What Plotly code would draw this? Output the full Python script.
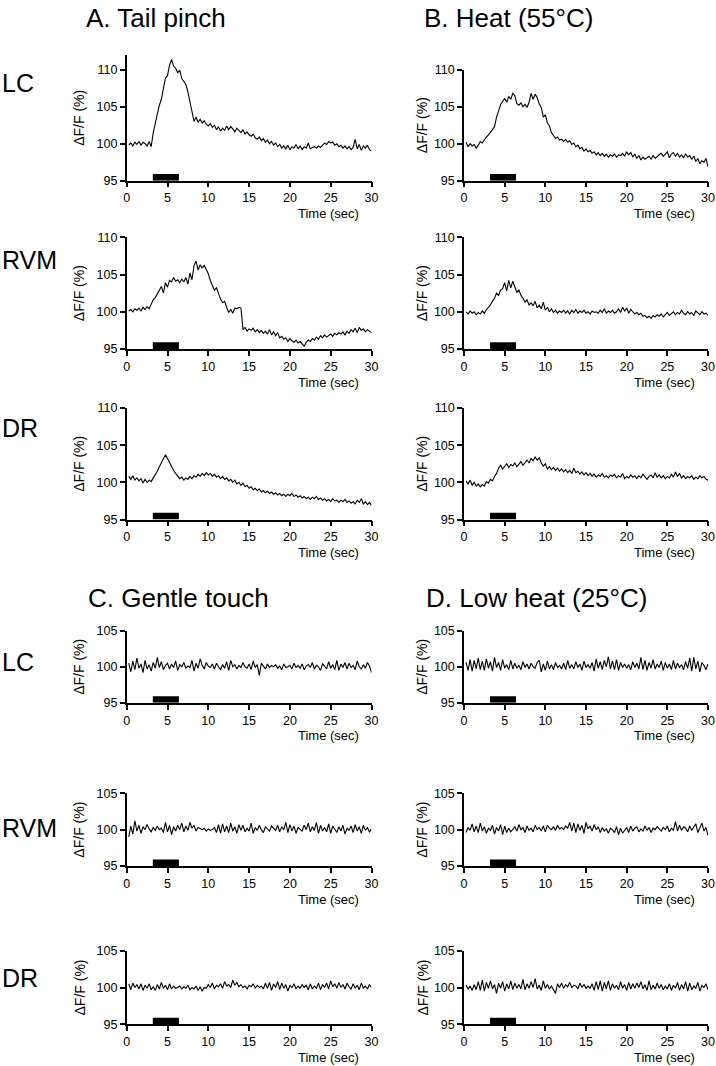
import plotly.graph_objects as go

W, H = 716, 1066
FONT = "Arial, Liberation Sans, sans-serif"


def fx(px):
    return px / W


def fy(py):
    return 1 - py / H


# sample times (s)
TIME = [round(0.25 * (i + 1), 2) for i in range(120)]

A_LC = [99.8, 100.1, 99.7, 100.2, 99.9, 100.3, 99.8, 100.2, 100.0, 99.7, 100.3, 99.6,
        101.5, 102.8, 103.8, 105.2, 106.0, 107.4, 108.9, 109.2, 110.6, 111.4, 110.5, 110.2,
        109.6, 109.9, 108.8, 108.4, 108.0, 107.0, 105.6, 104.4, 103.0, 103.6, 102.9, 103.3,
        102.8, 103.1, 102.6, 102.4, 102.7, 102.2, 102.5, 101.9, 102.3, 101.7, 102.1, 101.8,
        102.4, 101.9, 102.3, 102.0, 101.6, 102.1, 101.8, 101.5, 101.9, 101.3, 101.6, 101.2,
        101.0, 101.3, 100.8, 100.6, 100.9, 100.4, 100.7, 100.2, 100.5, 100.0, 100.3, 99.8,
        100.1, 99.6, 99.9, 99.4, 99.7, 99.3, 99.8, 99.2, 99.6, 99.4, 99.9, 99.3,
        99.7, 99.2, 99.6, 99.4, 100.1, 99.3, 99.5, 99.6, 99.4, 99.7, 99.5, 99.8,
        100.1, 99.9, 100.3, 100.1, 100.2, 99.8, 100.0, 99.6, 99.8, 99.4, 99.7, 99.3,
        99.6, 99.2, 99.5, 100.6, 99.3, 99.9, 99.1, 99.7, 99.4, 99.8, 99.2, 99.0]

B_LC = [100.2, 99.6, 100.0, 99.7, 99.9, 99.4, 99.8, 100.3, 100.1, 100.6, 100.9, 101.2,
        101.5, 101.9, 102.3, 103.6, 104.4, 105.3, 105.7, 106.1, 105.6, 106.4, 106.0, 106.8,
        106.5, 105.4, 105.2, 105.5, 105.0, 105.3, 104.9, 105.6, 106.8, 106.0, 106.7, 106.2,
        105.4, 104.9, 103.6, 103.9, 102.8, 102.4, 101.5, 101.0, 100.7, 100.9, 100.5, 100.6,
        100.3, 100.6, 100.2, 100.4, 99.9, 100.1, 99.6, 99.8, 99.3, 99.5, 99.0, 99.3,
        98.9, 99.1, 98.7, 98.9, 98.5, 98.8, 98.4, 98.7, 98.3, 98.6, 98.2, 98.5,
        98.3, 98.6, 98.2, 98.5, 98.4, 98.7, 98.3, 98.9, 98.5, 98.8, 98.2, 98.6,
        98.0, 98.4, 97.8, 98.2, 97.9, 98.1, 98.3, 97.9, 98.4, 98.0, 98.3, 98.5,
        98.7, 98.3, 98.6, 98.9, 98.1, 98.6, 98.8, 98.3, 98.7, 98.2, 98.5, 98.1,
        98.6, 98.2, 98.4, 97.9, 98.3, 97.6, 98.0, 97.3, 97.7, 97.5, 98.0, 96.9]

A_RVM = [100.1, 100.3, 100.0, 100.4, 100.2, 100.5, 100.1, 100.6, 100.3, 100.7, 100.4, 101.0,
         101.6, 101.9, 102.4, 102.8, 103.4, 102.5, 103.9, 103.3, 104.2, 104.0, 104.6, 104.1,
         104.3, 103.9, 104.4, 104.0, 104.6, 103.7, 105.2, 104.3, 106.2, 106.8, 105.6, 106.3,
         105.9, 106.2, 105.6, 105.1, 104.2, 103.6, 102.9, 103.2, 102.3, 101.7, 101.2, 101.4,
         100.6, 99.9, 100.3, 99.8, 100.5, 100.4, 100.6, 100.5, 97.6, 97.9, 97.4, 97.7,
         97.5, 97.8, 97.3, 97.6, 97.2, 97.5, 97.1, 97.4, 97.0, 97.6, 96.9, 97.3,
         96.8, 97.2, 96.5, 96.7, 96.3, 96.5, 96.0, 96.4, 96.1, 95.9, 96.2, 95.8,
         96.0, 95.7, 95.4, 95.9, 96.2, 96.0, 96.4, 96.2, 96.6, 96.3, 96.8, 96.5,
         96.9, 96.6, 96.8, 97.0, 96.7, 97.1, 96.9, 97.2, 97.0, 97.3, 96.9, 97.4,
         97.1, 97.6, 97.3, 97.8, 97.2, 97.9, 97.5, 97.7, 97.3, 97.6, 97.4, 97.2]

B_RVM = [100.0, 99.7, 100.1, 99.8, 100.0, 99.6, 99.9, 99.7, 100.1, 99.8, 100.3, 100.6,
         100.9, 101.4, 101.8, 102.5, 102.2, 102.9, 103.1, 103.9, 102.8, 104.2, 103.2, 104.1,
         103.4, 102.6, 102.9, 102.2, 101.8, 101.3, 101.6, 100.9, 101.2, 100.8, 101.4, 100.5,
         100.9, 100.4, 101.3, 100.2, 100.6, 100.0, 100.4, 99.9, 100.2, 99.8, 100.1, 99.9,
         100.2, 99.8, 100.1, 99.7, 100.2, 99.9, 100.3, 99.8, 100.1, 99.9, 100.2, 99.8,
         100.0, 99.7, 100.1, 99.9, 100.0, 99.8, 100.2, 99.9, 100.4, 99.8, 100.1, 99.9,
         100.2, 99.8, 100.0, 100.4, 99.9, 100.6, 100.1, 100.5, 99.8, 100.3, 100.0, 99.7,
         99.9, 99.6, 99.8, 99.4, 99.5, 99.2, 99.4, 99.1, 99.5, 99.3, 99.6, 99.4,
         99.7, 99.3, 99.6, 99.9, 99.5, 99.8, 100.0, 99.6, 99.9, 99.7, 100.2, 99.8,
         99.6, 100.0, 99.7, 99.9, 99.5, 100.1, 99.8, 99.6, 100.0, 99.7, 99.8, 99.5]

A_DR = [100.8, 100.4, 100.9, 100.3, 100.6, 100.2, 100.5, 99.9, 100.4, 100.0, 100.3, 100.1,
        100.6, 101.0, 101.5, 102.1, 102.6, 103.0, 103.7, 103.2, 102.6, 102.1, 101.6, 101.2,
        100.9, 100.5, 100.7, 100.3, 100.6, 100.4, 100.8, 100.5, 100.9, 100.7, 101.1, 100.8,
        101.2, 100.9, 101.3, 101.0, 101.2, 100.8, 101.1, 100.7, 100.9, 100.5, 100.8, 100.4,
        100.6, 100.2, 100.4, 100.0, 100.3, 99.8, 100.0, 99.6, 99.9, 99.4, 99.6, 99.2,
        99.4, 99.0, 99.2, 98.9, 99.1, 98.7, 98.9, 98.6, 98.8, 98.5, 98.7, 98.4,
        98.6, 98.3, 98.5, 98.2, 98.4, 98.1, 98.4, 98.2, 98.5, 98.1, 98.3, 98.0,
        98.2, 97.9, 98.1, 97.8, 98.0, 97.7, 98.0, 97.8, 98.1, 97.7, 97.9, 97.6,
        97.8, 97.5, 97.7, 97.4, 97.8, 97.5, 97.6, 97.3, 97.6, 97.4, 97.7, 97.3,
        97.5, 97.2, 97.4, 97.1, 97.6, 97.3, 97.8, 97.1, 97.4, 97.0, 97.3, 96.9]

B_DR = [100.2, 99.8, 100.3, 99.6, 100.0, 99.5, 99.8, 99.4, 99.7, 99.5, 100.1, 99.9,
        100.4, 100.2, 100.8, 101.2, 101.9, 102.3, 101.8, 102.1, 102.5, 102.0, 102.4, 102.2,
        102.6, 102.1, 102.5, 102.8, 102.3, 102.7, 103.0, 102.6, 103.2, 102.9, 103.4, 103.0,
        103.3, 102.6, 102.2, 102.5, 101.8, 102.1, 101.7, 102.0, 101.6, 101.9, 101.5, 101.8,
        101.4, 101.7, 101.3, 101.6, 101.2, 101.9, 101.3, 101.5, 101.1, 101.4, 101.0, 101.3,
        100.9, 101.2, 100.8, 101.1, 100.7, 101.0, 100.8, 101.2, 100.7, 100.9, 100.6, 101.0,
        100.8, 101.1, 100.6, 100.9, 100.7, 101.2, 100.5, 100.8, 100.6, 101.0, 100.7, 100.9,
        100.5, 100.9, 100.6, 101.1, 100.7, 100.4, 100.8, 101.0, 100.6, 101.3, 100.7, 101.0,
        100.6, 100.9, 100.5, 100.8, 100.6, 101.1, 100.7, 101.4, 100.8, 101.2, 100.6, 100.9,
        100.5, 100.8, 100.6, 100.9, 100.4, 100.7, 100.5, 100.9, 100.6, 100.8, 100.4, 100.3]

C_LC = [100.5, 99.3, 100.8, 99.6, 101.2, 99.8, 100.4, 99.2, 100.9, 99.7, 100.3, 99.4,
        100.6, 99.8, 101.3, 99.9, 100.7, 99.6, 100.2, 100.5, 99.7, 100.4, 99.9, 100.8,
        99.5, 100.3, 100.0, 100.6, 99.8, 100.1, 99.9, 100.9, 99.4, 100.5, 99.8, 101.1,
        100.2, 99.7, 100.6, 100.1, 99.9, 100.4, 99.7, 100.5, 100.0, 99.6, 100.3, 99.8,
        100.7, 99.5, 100.9, 100.0, 100.3, 99.7, 100.2, 99.9, 100.6, 100.0, 99.8, 100.4,
        99.6, 100.8, 99.9, 100.3, 98.8, 100.5, 100.1, 99.7, 100.4, 99.9, 100.2, 100.0,
        100.3, 99.8, 100.1, 99.6, 100.4, 99.9, 100.0, 100.2, 99.7, 100.5, 99.9, 100.2,
        99.8, 100.4, 99.6, 100.1, 100.3, 99.9, 100.6, 99.7, 100.2, 100.0, 99.5, 100.4,
        100.1, 99.7, 100.7, 99.8, 100.3, 99.6, 100.9, 99.5, 100.4, 99.9, 100.6, 99.7,
        100.5, 99.9, 100.2, 99.6, 100.8, 100.0, 99.7, 100.3, 99.8, 100.6, 100.1, 99.2]

D_LC = [100.6, 99.5, 101.0, 99.4, 100.9, 99.7, 101.2, 99.6, 100.8, 99.5, 101.1, 99.8,
        100.7, 99.4, 101.3, 99.9, 100.6, 99.5, 101.0, 99.8, 100.3, 99.6, 100.9, 99.7,
        100.5, 99.8, 100.2, 99.6, 100.7, 99.9, 100.4, 99.7, 100.5, 100.0, 99.8, 100.6,
        100.9, 99.3, 100.4, 99.5, 100.8, 99.7, 100.3, 99.6, 100.6, 99.9, 100.2, 99.7,
        100.5, 99.6, 100.9, 99.8, 100.3, 99.7, 100.7, 99.9, 100.4, 99.5, 100.8, 99.9,
        100.3, 99.8, 100.6, 99.4, 101.1, 99.8, 100.7, 99.6, 100.9, 100.0, 101.4, 99.7,
        100.8, 99.6, 101.0, 99.5, 100.6, 99.9, 100.4, 99.8, 100.3, 99.6, 100.7, 99.9,
        100.5, 99.7, 101.3, 99.6, 100.9, 99.5, 100.6, 99.8, 101.0, 99.7, 100.4, 99.9,
        100.8, 99.5, 100.6, 99.8, 100.4, 99.6, 100.9, 99.7, 100.5, 99.9, 100.3, 99.6,
        100.7, 99.8, 101.2, 99.4, 101.3, 99.7, 100.8, 99.3, 100.6, 100.2, 99.6, 100.4]

C_RVM = [99.0, 100.5, 99.4, 101.2, 99.8, 100.6, 99.5, 100.4, 100.0, 100.7, 100.1, 99.7,
         100.3, 99.9, 100.5, 100.0, 100.2, 99.6, 101.0, 99.7, 100.6, 99.3, 100.4, 99.8,
         100.6, 100.0, 100.9, 99.7, 100.5, 99.9, 101.0, 100.2, 100.6, 99.8, 100.3, 100.1,
         100.0, 100.2, 99.8, 100.1, 99.9, 100.0, 100.3, 99.6, 100.7, 99.5, 100.8, 99.7,
         100.5, 99.6, 100.9, 99.8, 100.4, 99.5, 100.7, 99.9, 100.6, 99.7, 100.2, 99.8,
         100.9, 99.5, 100.3, 99.9, 100.6, 100.0, 99.6, 100.4, 100.1, 99.8, 100.5, 100.2,
         99.9, 100.6, 99.7, 100.4, 100.0, 101.0, 99.6, 100.7, 99.8, 100.5, 99.5, 100.3,
         100.1, 99.8, 100.6, 100.0, 100.9, 99.7, 100.4, 99.9, 101.0, 99.5, 100.6, 99.8,
         100.3, 99.7, 100.8, 99.5, 100.5, 100.0, 99.6, 100.4, 99.8, 100.6, 99.4, 100.2,
         99.9, 100.5, 99.6, 100.7, 99.8, 100.4, 99.5, 100.6, 99.9, 100.3, 99.7, 100.1]

D_RVM = [99.6, 100.3, 99.9, 100.8, 99.7, 100.5, 99.6, 100.9, 99.8, 100.4, 99.5, 100.2,
         99.9, 100.6, 99.4, 100.3, 99.8, 100.7, 99.3, 100.5, 99.6, 100.2, 99.7, 100.0,
         100.4, 99.8, 100.7, 100.0, 100.3, 99.6, 100.5, 99.9, 100.2, 99.7, 100.6, 100.0,
         100.3, 99.8, 100.5, 99.7, 100.6, 100.2, 100.0, 100.4, 99.9, 100.6, 100.1, 100.3,
         100.0, 100.5, 100.2, 101.0, 99.8, 100.9, 99.6, 100.8, 99.9, 100.6, 99.5, 101.0,
         100.1, 100.5, 99.8, 100.7, 100.0, 100.4, 99.6, 100.3, 99.8, 100.1, 99.5, 100.2,
         100.0, 99.6, 100.4, 99.3, 100.2, 99.5, 99.9, 100.3, 99.6, 100.5, 99.8, 100.2,
         100.4, 99.7, 100.1, 99.8, 100.5, 99.9, 100.3, 99.6, 100.2, 100.0, 100.4, 100.1,
         99.8, 100.3, 100.0, 100.5, 99.7, 100.2, 99.9, 101.1, 99.8, 100.6, 99.9, 100.4,
         100.2, 99.7, 100.5, 99.9, 100.3, 100.8, 99.6, 100.4, 100.9, 99.8, 100.3, 99.2]

C_DR = [100.5, 99.7, 100.6, 100.0, 100.4, 99.8, 100.5, 99.6, 100.3, 99.9, 100.5, 99.7,
        100.1, 99.6, 100.4, 99.8, 100.7, 99.9, 100.3, 99.7, 100.5, 99.8, 100.2, 99.9,
        100.0, 100.2, 99.8, 100.1, 99.9, 100.3, 99.7, 100.0, 99.8, 100.2, 99.6, 100.1,
        99.5, 100.0, 99.9, 100.4, 100.0, 100.6, 99.8, 100.3, 100.1, 100.5, 99.9, 100.8,
        100.2, 100.4, 100.0, 101.0, 100.3, 100.7, 100.1, 100.4, 100.0, 100.2, 99.8, 100.3,
        100.1, 100.5, 99.9, 100.3, 100.0, 100.2, 99.8, 100.6, 99.9, 100.7, 99.6, 100.5,
        100.0, 100.8, 99.7, 100.6, 99.9, 100.4, 99.5, 100.3, 100.0, 100.5, 99.8, 100.2,
        99.9, 100.4, 100.0, 100.3, 99.7, 100.5, 99.8, 100.2, 99.9, 100.6, 99.7, 100.4,
        100.0, 100.6, 99.8, 100.9, 100.1, 100.5, 99.9, 100.7, 100.0, 100.4, 99.8, 100.6,
        100.1, 99.8, 100.5, 99.9, 100.3, 99.7, 100.6, 99.9, 100.2, 99.8, 100.4, 100.0]

D_DR = [100.3, 99.8, 100.2, 99.6, 100.4, 99.7, 100.8, 99.6, 101.0, 99.5, 100.7, 99.9,
        100.9, 99.8, 100.4, 99.2, 100.6, 99.9, 100.8, 99.5, 100.5, 99.8, 100.9, 99.7,
        100.6, 99.9, 100.4, 99.8, 101.1, 99.7, 100.5, 99.9, 100.8, 100.0, 101.2, 99.8,
        100.3, 99.6, 100.9, 99.9, 100.4, 99.8, 100.2, 99.7, 99.2, 100.5, 100.0, 100.6,
        99.9, 100.4, 100.1, 100.7, 100.0, 100.3, 100.2, 99.8, 100.6, 100.0, 100.4, 99.9,
        100.2, 99.9, 100.5, 99.6, 100.8, 99.7, 100.9, 99.5, 100.7, 99.8, 100.9, 99.6,
        100.5, 99.9, 100.3, 99.7, 100.8, 99.9, 100.4, 99.6, 100.7, 99.8, 100.5, 99.9,
        100.6, 100.0, 100.8, 99.8, 100.4, 99.6, 100.9, 99.7, 100.3, 99.8, 100.6, 99.9,
        100.4, 99.7, 100.2, 99.8, 100.5, 99.6, 100.3, 99.9, 100.7, 99.6, 100.4, 99.8,
        100.8, 99.5, 100.6, 99.7, 100.2, 99.9, 100.7, 99.5, 100.3, 100.0, 100.5, 99.7]

X_TICKS = [0, 5, 10, 15, 20, 25, 30]
Y_TICKS_TOP = [95, 100, 105, 110]
Y_TICKS_BOTTOM = [95, 100, 105]
STIM_ON, STIM_OFF = 3.2, 6.4

TITLES = ["A. Tail pinch", "B. Heat (55°C)", "C. Gentle touch", "D. Low heat (25°C)"]
ROW_LABELS = ["LC", "RVM", "DR", "LC", "RVM", "DR"]

# layout geometry (pixels)
COL_PX = [(126.7, 371.5), (464.0, 708.0)]
ROW_PX = [(180.7, 7.4), (349.0, 7.45), (519.5, 7.43), (702.8, 7.2), (866.0, 7.27), (1024.3, 7.36)]

panels = [
    (A_LC, 0, 0, 112), (B_LC, 1, 0, 110),
    (A_RVM, 0, 1, 110), (B_RVM, 1, 1, 110),
    (A_DR, 0, 2, 110), (B_DR, 1, 2, 110),
    (C_LC, 0, 3, 105), (D_LC, 1, 3, 105),
    (C_RVM, 0, 4, 105), (D_RVM, 1, 4, 105),
    (C_DR, 0, 5, 105), (D_DR, 1, 5, 105),
]

fig = go.Figure()
layout = {}
shapes = []
annotations = []

for i, (vals, col, row, ymax) in enumerate(panels):
    n = i + 1
    xa = "x" if n == 1 else f"x{n}"
    ya = "y" if n == 1 else f"y{n}"
    fig.add_trace(go.Scatter(x=TIME, y=vals, mode="lines", xaxis=xa, yaxis=ya,
                             line=dict(color="black", width=1.1), showlegend=False,
                             hoverinfo="skip"))
    x0, x1 = COL_PX[col]
    bottom, ppu = ROW_PX[row]
    top = bottom - ppu * (ymax - 95)
    ax_common = dict(showline=True, linecolor="black", linewidth=1.5, ticks="outside",
                     ticklen=5, tickwidth=1.5, tickcolor="black", showgrid=False,
                     zeroline=False, automargin=False,
                     tickfont=dict(family=FONT, size=12.5, color="black"))
    layout["xaxis" if n == 1 else f"xaxis{n}"] = dict(
        domain=[fx(x0), fx(x1)], range=[0, 30], tickvals=X_TICKS, anchor=ya, **ax_common)
    layout["yaxis" if n == 1 else f"yaxis{n}"] = dict(
        domain=[fy(bottom), fy(top)], range=[95, ymax],
        tickvals=Y_TICKS_TOP if row < 3 else Y_TICKS_BOTTOM, anchor=xa, **ax_common)
    shapes.append(dict(type="rect", xref=xa, yref=ya, x0=STIM_ON, x1=STIM_OFF,
                       y0=95, y1=95.9, fillcolor="black", line=dict(width=0), layer="above"))
    annotations.append(dict(text="Time (sec)", xref="paper", yref="paper",
                            x=fx(x1 - 11), y=fy(bottom + 33),
                            xanchor="right", yanchor="middle", showarrow=False,
                            font=dict(family=FONT, size=13, color="black")))
    ytitle_x = 79 if col == 0 else 422
    annotations.append(dict(text="ΔF/F (%)", xref="paper", yref="paper", textangle=-90,
                            x=fx(ytitle_x), y=fy((bottom + top) / 2),
                            xanchor="center", yanchor="middle", showarrow=False,
                            font=dict(family=FONT, size=14, color="black")))

for text, px, py in [(TITLES[0], 84, 18), (TITLES[1], 422, 18),
                     (TITLES[2], 86, 598), (TITLES[3], 424, 598)]:
    annotations.append(dict(text=text, xref="paper", yref="paper", x=fx(px), y=fy(py),
                            xanchor="left", yanchor="middle", showarrow=False,
                            font=dict(family=FONT, size=26, color="black")))

for text, py in zip(ROW_LABELS, [83, 260, 428, 662, 828, 978]):
    annotations.append(dict(text=text, xref="paper", yref="paper", x=fx(0), y=fy(py),
                            xanchor="left", yanchor="middle", showarrow=False,
                            font=dict(family=FONT, size=25, color="black")))

fig.update_layout(width=W, height=H, margin=dict(l=0, r=0, t=0, b=0, pad=0),
                  plot_bgcolor="white", paper_bgcolor="white",
                  shapes=shapes, annotations=annotations, **layout)

# remove the browser's default 8 px body margin so the figure fills the window
fig.write_html("out.html",
               config={"displayModeBar": False},
               post_script="document.body.style.margin='0';"
                           "document.body.style.overflow='hidden';")
